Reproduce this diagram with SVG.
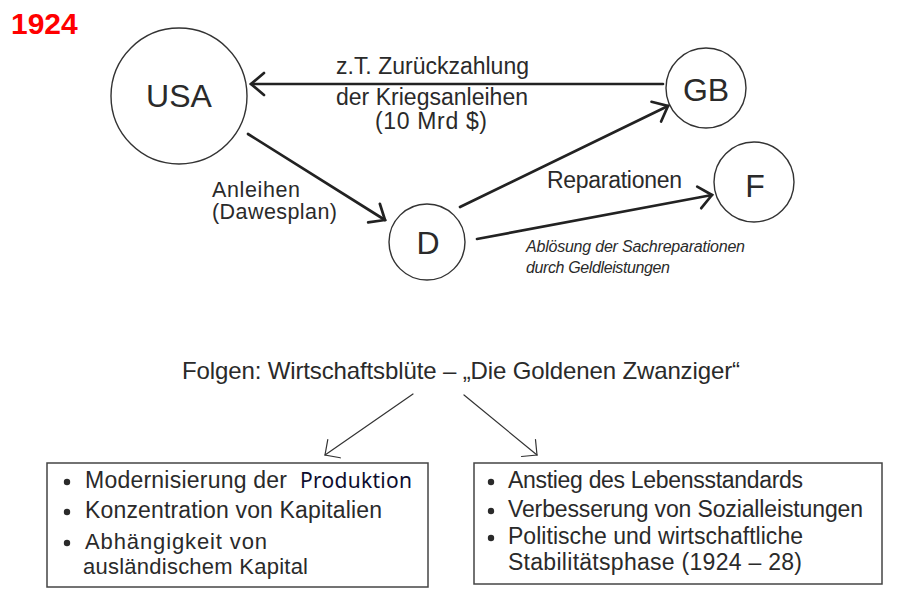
<svg xmlns="http://www.w3.org/2000/svg" width="905" height="600" viewBox="0 0 905 600">
  <style>
    .bg { fill: #ffffff; }
    .node { fill: none; stroke: #333333; stroke-width: 1.4; }
    .t { font-family: "Liberation Sans", Arial, sans-serif; fill: #2a2a2a; }
    .lbl { font-size: 23px; }
    .nt { font-size: 32px; text-anchor: middle; }
    .it { font-size: 16px; font-style: italic; }
    .box { fill: none; stroke: #444444; stroke-width: 1.5; }
    .li { font-size: 23px; }
    .bullet { fill: #2a2a2a; }
    .flow { fill: none; stroke: #222222; stroke-width: 2.7; stroke-linecap: round; }
    .thin { fill: none; stroke: #333333; stroke-width: 1.2; stroke-linecap: round; }
  </style>
  <defs>
    <marker id="head" markerUnits="userSpaceOnUse" viewBox="-16 -14 20 28" refX="0" refY="0" markerWidth="20" markerHeight="28" orient="auto">
      <path d="M-13,-11 L0,0 L-13,11" fill="none" stroke="#222222" stroke-width="2.7" stroke-linecap="round" stroke-linejoin="miter"/>
    </marker>
    <marker id="headThin" markerUnits="userSpaceOnUse" viewBox="-14 -14 18 28" refX="0" refY="0" markerWidth="18" markerHeight="28" orient="auto">
      <path d="M-11,-11 L0,0 L-11,11" fill="none" stroke="#333333" stroke-width="1.2" stroke-linecap="round"/>
    </marker>
  </defs>

  <rect class="bg" x="0" y="0" width="905" height="600"/>

  <!-- year heading -->
  <text x="11" y="34" font-family="Liberation Sans, Arial, sans-serif" font-weight="bold" font-size="30" fill="#ff0000">1924</text>

  <!-- country nodes -->
  <g id="usa">
    <circle class="node" cx="179" cy="96" r="68"/>
    <text class="t nt" x="179" y="107" font-size="35">USA</text>
  </g>
  <g id="gb">
    <circle class="node" cx="706" cy="88" r="40"/>
    <text class="t nt" x="706" y="101">GB</text>
  </g>
  <g id="f">
    <circle class="node" cx="754" cy="182" r="40"/>
    <text class="t nt" x="755" y="197" font-size="33">F</text>
  </g>
  <g id="d">
    <circle class="node" cx="427" cy="242" r="38"/>
    <text class="t nt" x="428" y="254" font-size="34">D</text>
  </g>

  <!-- money flows between the countries -->
  <g id="connectors">
    <line class="flow" x1="663" y1="84" x2="251" y2="84" marker-end="url(#head)"/>
    <line class="flow" x1="248" y1="134" x2="385" y2="220" marker-end="url(#head)"/>
    <line class="flow" x1="460" y1="207" x2="668" y2="106" marker-end="url(#head)"/>
    <line class="flow" x1="477" y1="239" x2="712" y2="195" marker-end="url(#head)"/>
    <line class="thin" x1="413" y1="394" x2="325" y2="455" marker-end="url(#headThin)"/>
    <line class="thin" x1="464" y1="395" x2="537" y2="455" marker-end="url(#headThin)"/>
  </g>

  <!-- flow labels -->
  <g id="labels">
    <text class="t lbl" x="336" y="74" textLength="193" lengthAdjust="spacing">z.T. Zurückzahlung</text>
    <text class="t lbl" x="336" y="105" textLength="192" lengthAdjust="spacing">der Kriegsanleihen</text>
    <text class="t lbl" x="375" y="129" textLength="112" lengthAdjust="spacing">(10 Mrd $)</text>
    <text class="t" x="212" y="197" font-size="21.5" textLength="88" lengthAdjust="spacing">Anleihen</text>
    <text class="t" x="212" y="219" font-size="21.5" textLength="125" lengthAdjust="spacing">(Dawesplan)</text>
    <text class="t lbl" x="547" y="188" textLength="135" lengthAdjust="spacing">Reparationen</text>
    <text class="t it" x="526" y="252" textLength="219" lengthAdjust="spacing">Ablösung der Sachreparationen</text>
    <text class="t it" x="526" y="273" textLength="144" lengthAdjust="spacing">durch Geldleistungen</text>
  </g>

  <!-- consequences -->
  <g id="folgen">
    <text class="t" x="182" y="379" font-size="24" textLength="558" lengthAdjust="spacing">Folgen: Wirtschaftsblüte – „Die Goldenen Zwanziger“</text>
  </g>

  <g id="box-left">
    <rect class="box" x="47" y="463" width="381" height="124"/>
    <circle class="bullet" cx="67" cy="482" r="3.2"/>
    <text class="t li" x="85" y="488" textLength="202" lengthAdjust="spacing">Modernisierung der</text>
    <text x="300" y="488" font-family="Noto Sans, Open Sans, sans-serif" font-size="21" fill="#0d0d2e" textLength="112" lengthAdjust="spacing">Produktion</text>
    <circle class="bullet" cx="67" cy="512" r="3.2"/>
    <text class="t li" x="85" y="518" textLength="297" lengthAdjust="spacing">Konzentration von Kapitalien</text>
    <circle class="bullet" cx="67" cy="543" r="3.2"/>
    <text class="t" x="85" y="549" font-size="22" textLength="182" lengthAdjust="spacing">Abhängigkeit von</text>
    <text class="t" x="83" y="574" font-size="22" textLength="225" lengthAdjust="spacing">ausländischem Kapital</text>
  </g>

  <g id="box-right">
    <rect class="box" x="474" y="463" width="408" height="121"/>
    <circle class="bullet" cx="491" cy="482" r="3.2"/>
    <text class="t li" x="508" y="488" textLength="295" lengthAdjust="spacing">Anstieg des Lebensstandards</text>
    <circle class="bullet" cx="491" cy="511" r="3.2"/>
    <text class="t li" x="508" y="517" textLength="355" lengthAdjust="spacing">Verbesserung von Sozialleistungen</text>
    <circle class="bullet" cx="491" cy="538" r="3.2"/>
    <text class="t li" x="508" y="544" textLength="295" lengthAdjust="spacing">Politische und wirtschaftliche</text>
    <text class="t li" x="508" y="570" textLength="294" lengthAdjust="spacing">Stabilitätsphase (1924 – 28)</text>
  </g>
</svg>
